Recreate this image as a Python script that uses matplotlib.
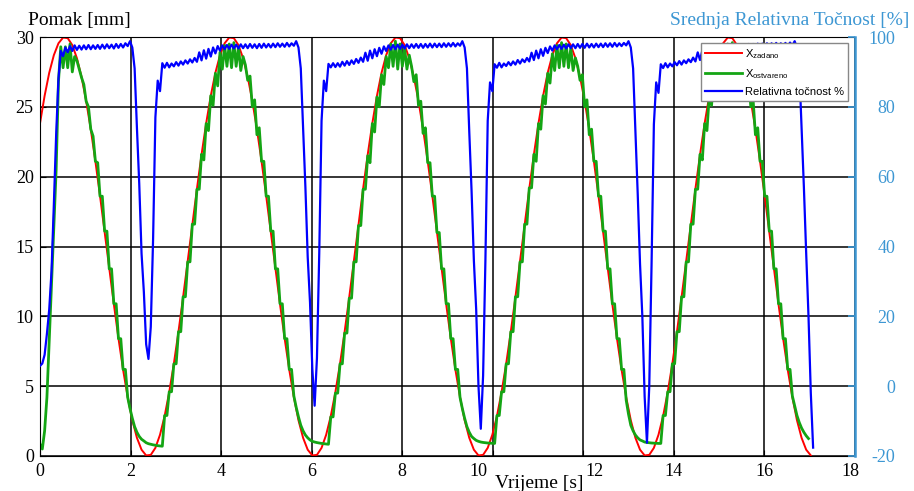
import numpy as np
import matplotlib
matplotlib.use('Agg')
import matplotlib.pyplot as plt

# logged signals: red every dt, green/blue every dt/2  [s]
dt = 0.10194
half_dt = dt / 2

# x_zadano [mm] (first point = 0 at t=0, then the sampled set-point)
red_mm = [0.0,
    23.82, 25.79, 27.44, 28.70, 29.55, 29.96, 29.92, 29.42, 28.48, 27.14, 25.42, 23.39,
    21.10, 18.63, 16.05, 13.43, 10.87, 8.42, 6.18, 4.21, 2.56, 1.30, 0.45, 0.04,
    0.08, 0.58, 1.52, 2.86, 4.58, 6.61, 8.90, 11.37, 13.95, 16.57, 19.13, 21.58,
    23.82, 25.79, 27.44, 28.70, 29.55, 29.96, 29.92, 29.42, 28.48, 27.14, 25.42, 23.39,
    21.10, 18.63, 16.05, 13.43, 10.87, 8.42, 6.18, 4.21, 2.56, 1.30, 0.45, 0.04,
    0.08, 0.58, 1.52, 2.86, 4.58, 6.61, 8.90, 11.37, 13.95, 16.57, 19.13, 21.58,
    23.82, 25.79, 27.44, 28.70, 29.55, 29.96, 29.92, 29.42, 28.48, 27.14, 25.42, 23.39,
    21.10, 18.63, 16.05, 13.43, 10.87, 8.42, 6.18, 4.21, 2.56, 1.30, 0.45, 0.04,
    0.08, 0.58, 1.52, 2.86, 4.58, 6.61, 8.90, 11.37, 13.95, 16.57, 19.13, 21.58,
    23.82, 25.79, 27.44, 28.70, 29.55, 29.96, 29.92, 29.42, 28.48, 27.14, 25.42, 23.39,
    21.10, 18.63, 16.05, 13.43, 10.87, 8.42, 6.18, 4.21, 2.56, 1.30, 0.45, 0.04,
    0.08, 0.58, 1.52, 2.86, 4.58, 6.61, 8.90, 11.37, 13.95, 16.57, 19.13, 21.58,
    23.82, 25.79, 27.44, 28.70, 29.55, 29.96, 29.92, 29.42, 28.48, 27.14, 25.42, 23.39,
    21.10, 18.63, 16.05, 13.43, 10.87, 8.42, 6.18, 4.21, 2.56, 1.30, 0.45, 0.04]

# x_ostvareno [mm]
green_start = [
    0.85, 0.50, 1.8, 4.2, 8.3, 12.5, 16.5, 20.5, 26.8, 29.3,
    27.8, 29.3, 27.8, 29.5, 27.5, 28.6, 28.3, 27.7, 27.1, 26.6,
    25.4, 25.0, 23.4, 22.9, 21.1, 21.0, 18.6, 18.6, 16.1, 16.1,
    13.4, 13.4, 10.9, 10.9, 8.4, 8.4, 6.2, 6.2, 4.2, 3.4,
    2.7, 2.1, 1.7, 1.4, 1.2, 1.08, 0.95, 0.88, 0.84, 0.80,
    0.77, 0.74, 0.72, 0.70]
green_cyc2 = [
    2.9, 2.9, 4.6, 4.6, 6.6, 6.6, 8.9, 8.9, 11.4, 11.4,
    13.9, 13.9, 16.6, 16.6, 19.1, 19.1, 21.6, 21.2, 23.8, 23.3,
    25.8, 25.1, 27.4, 26.5, 28.9, 27.7, 29.4, 27.9, 29.5, 27.8,
    29.6, 27.9, 29.3, 27.6, 28.6, 28.0, 26.9, 27.2, 25.0, 25.5,
    23.0, 23.5, 21.1, 21.1, 18.6, 18.6, 16.1, 16.1, 13.4, 13.4,
    10.9, 10.9, 8.4, 8.4, 6.2, 6.2, 4.3, 3.5, 2.8, 2.2,
    1.8, 1.5, 1.3, 1.15, 1.05, 1.0, 0.96, 0.93, 0.90, 0.88,
    0.86, 0.84]
green_cyc3 = [
    2.8, 2.8, 4.5, 4.5, 6.6, 6.6, 8.8, 8.8, 11.3, 11.3,
    13.9, 13.9, 16.5, 16.5, 19.1, 19.1, 21.5, 21.0, 23.8, 23.2,
    25.7, 25.0, 27.3, 26.6, 28.6, 27.8, 29.5, 27.9, 29.7, 27.7,
    29.5, 27.9, 29.2, 27.7, 28.7, 27.9, 26.8, 27.3, 25.1, 25.4,
    23.1, 23.5, 21.0, 21.0, 18.6, 18.6, 16.0, 16.0, 13.4, 13.4,
    10.9, 10.9, 8.4, 8.4, 6.2, 6.2, 4.2, 3.4, 2.7, 2.1,
    1.7, 1.4, 1.25, 1.12, 1.05, 1.0, 0.97, 0.95, 0.93, 0.92,
    0.91, 0.90]
green_cyc4 = [
    2.9, 2.9, 4.6, 4.6, 6.6, 6.6, 8.9, 8.9, 11.4, 11.4,
    13.9, 13.9, 16.6, 16.6, 19.2, 19.2, 21.6, 21.1, 23.8, 23.4,
    25.8, 25.2, 27.4, 26.7, 28.8, 27.6, 29.4, 27.8, 29.6, 27.9,
    29.5, 27.8, 29.2, 27.6, 28.5, 27.9, 26.9, 27.3, 25.0, 25.5,
    23.0, 23.4, 21.1, 21.1, 18.6, 18.6, 16.1, 16.1, 13.4, 13.4,
    10.9, 10.9, 8.4, 8.4, 6.2, 6.2, 4.0, 3.0, 2.2, 1.8,
    1.5, 1.3, 1.15, 1.08, 1.0, 0.97, 0.95, 0.93, 0.92, 0.91,
    0.90, 0.90]
green_cyc5 = [
    2.9, 2.9, 4.6, 4.6, 6.6, 6.6, 8.9, 8.9, 11.4, 11.4,
    13.9, 13.9, 16.6, 16.6, 19.1, 19.1, 21.6, 21.2, 23.8, 23.3,
    25.8, 25.1, 27.4, 26.5, 28.9, 27.7, 29.4, 27.9, 29.5, 27.8,
    29.6, 27.9, 29.3, 27.6, 28.6, 28.0, 26.9, 27.2, 25.0, 25.5,
    23.0, 23.5, 21.1, 21.1, 18.6, 18.6, 16.1, 16.1, 13.4, 13.4,
    10.9, 10.9, 8.4, 8.4, 6.2, 6.2, 4.3, 3.6, 2.9, 2.4,
    2.0, 1.7, 1.45, 1.25]

# relativna tocnost [%]
blue_start = [
    5.8, 6.5, 9.0, 15.0, 22.0, 33.0, 52.0, 72.0, 88.0, 96.0,
    94.5, 97.0, 95.6, 97.4, 96.0, 97.6, 96.3, 97.5, 96.4, 97.6,
    96.5, 97.7, 96.5, 97.6, 96.6, 97.7, 96.6, 97.8, 96.7, 97.9,
    96.8, 97.8, 96.7, 98.0, 96.9, 98.0, 97.0, 98.2, 97.4]
blue_cyc1 = [
    98.8, 97.0, 91.0, 74.0, 58.0, 38.0, 27.0, 12.0, 7.8, 17.0, 42.0,
    77.0, 87.5, 84.5, 92.5,
    91.2, 92.6, 91.3, 92.4, 91.6, 92.8, 91.8, 93.0, 92.1, 93.3,
    92.4, 93.6, 92.7, 94.0, 92.9, 95.6, 93.3, 96.2, 93.8, 96.6,
    94.4, 97.0, 95.3, 97.4, 96.1, 97.6, 96.5, 97.7, 96.6, 97.8,
    96.7, 97.8, 96.7, 97.9, 96.8, 97.9, 96.8, 98.0, 96.9, 97.9,
    96.8, 98.0, 96.9, 98.1, 97.0, 98.0, 97.0, 98.1, 97.1, 98.2,
    97.2, 98.1, 97.2, 98.3, 97.3, 98.2, 97.5]
blue_cyc2 = [
    98.8, 97.0, 91.0, 74.0, 57.0, 37.0, 24.0, 5.0, -5.6, 8.0, 38.0,
    76.0, 87.5, 84.5, 92.3,
    91.3, 92.5, 91.4, 92.5, 91.5, 92.9, 91.8, 93.1, 92.0, 93.3,
    92.3, 93.7, 92.6, 94.1, 92.9, 95.5, 93.2, 96.1, 93.9, 96.5,
    94.5, 96.9, 95.2, 97.3, 96.0, 97.6, 96.4, 97.7, 96.5, 97.8,
    96.6, 97.8, 96.7, 97.9, 96.8, 97.9, 96.9, 98.0, 96.9, 98.0,
    96.9, 98.0, 97.0, 98.1, 97.0, 98.1, 97.1, 98.1, 97.1, 98.2,
    97.2, 98.2, 97.3, 98.3, 97.3, 98.2, 97.5]
blue_cyc3 = [
    98.8, 97.0, 91.0, 73.0, 56.0, 36.0, 22.0, 0.0, -12.2, 3.0, 36.0,
    76.0, 87.0, 84.5, 92.2,
    91.2, 92.6, 91.3, 92.4, 91.7, 92.8, 91.9, 93.0, 92.1, 93.4,
    92.4, 93.6, 92.8, 94.0, 93.0, 95.5, 93.4, 96.1, 93.9, 96.5,
    94.6, 96.9, 95.4, 97.3, 96.1, 97.6, 96.5, 97.7, 96.6, 97.8,
    96.7, 97.9, 96.8, 97.9, 96.8, 98.0, 96.9, 98.0, 96.9, 98.1,
    97.0, 98.0, 97.0, 98.1, 97.1, 98.1, 97.1, 98.2, 97.2, 98.2,
    97.2, 98.3, 97.3, 98.2, 97.4, 98.3, 97.6]
blue_cyc4 = [
    98.8, 97.0, 91.0, 73.0, 55.0, 35.0, 20.0, -3.0, -16.2, 0.0, 35.0,
    75.0, 87.0, 84.0, 92.2,
    91.1, 92.5, 91.3, 92.4, 91.6, 92.8, 91.9, 93.1, 92.1, 93.3,
    92.5, 93.6, 92.8, 94.1, 93.0, 95.6, 93.4, 96.2, 93.9, 96.6,
    94.5, 97.0, 95.3, 97.4, 96.1, 97.6, 96.5, 97.7, 96.6, 97.8,
    96.7, 97.8, 96.8, 97.9, 96.8, 97.9, 96.9, 98.0, 96.9, 98.0,
    97.0, 98.1, 97.0, 98.1, 97.1, 98.2, 97.1, 98.2, 97.2, 98.3,
    97.3, 98.2, 97.3, 98.3, 97.4, 98.4, 97.6]
blue_end = [98.8, 97.0, 91.0, 74.0, 57.0, 38.0, 20.0, -2.0, -17.6]

green_mm = green_start + green_cyc2 + green_cyc3 + green_cyc4 + green_cyc5
blue_pct = blue_start + blue_cyc1 + blue_cyc2 + blue_cyc3 + blue_cyc4 + blue_end

red_t = np.concatenate([[0.0], np.arange(len(red_mm) - 1) * dt])
green_t = np.arange(len(green_mm)) * half_dt
blue_t = np.arange(len(blue_pct)) * half_dt

x_ticks = list(range(0, 19, 2))
y_ticks = list(range(0, 31, 5))
pct_ticks = list(range(-20, 101, 20))

right_col = '#3d97d3'
plt.rcParams['font.family'] = 'Liberation Serif'
plt.rcParams['mathtext.default'] = 'regular'
plt.rcParams['axes.unicode_minus'] = False

fig = plt.figure(figsize=(9.14, 4.91), dpi=100)
ax = fig.add_axes([40 / 914, 1 - 456 / 491, 815 / 914, 419 / 491])

l_red, = ax.plot(red_t, red_mm, color='#ff0000', lw=1.4)
l_green, = ax.plot(green_t, green_mm, color='#14a514', lw=2.0)
ax.set_xlim(0, 18)
ax.set_ylim(0, 30)
ax.set_xticks(x_ticks)
ax.set_xticklabels([str(v) if v not in (10, 12, 18) else '' for v in x_ticks])
ax.set_yticks(y_ticks)
ax.grid(True, color='black', lw=1.1)
ax.tick_params(direction='in', labelsize=13, length=4)
ax.tick_params(axis='x', pad=5)
ax.tick_params(axis='y', pad=4.5)
ax.spines['right'].set_visible(False)

# the 10, 12 and 18 labels sit a little off their ticks
for xv, dx in ((10, -14), (12, 11), (18, -5)):
    tr = ax.get_xaxis_transform() + matplotlib.transforms.ScaledTranslation(dx / 100, -7 / 100, fig.dpi_scale_trans)
    ax.text(xv, 0, str(xv), transform=tr, ha='center', va='top', fontsize=13)

ax2 = ax.twinx()
l_blue, = ax2.plot(blue_t, blue_pct, color='#0000ff', lw=1.6)
ax2.set_ylim(-20, 100)
ax2.set_yticks(pct_ticks)
ax2.tick_params(axis='y', colors=right_col, direction='in', length=5, width=1.2,
                labelsize=13, pad=28.8)
for lbl in ax2.get_yticklabels():
    lbl.set_horizontalalignment('right')
for s in ('left', 'top', 'bottom'):
    ax2.spines[s].set_visible(False)
ax2.spines['right'].set_color(right_col)
ax2.spines['right'].set_linewidth(1.8)

fig.text(28 / 914, 1 - 25 / 491, 'Pomak [mm]', fontsize=14, va='baseline')
fig.text(670 / 914, 1 - 25 / 491, 'Srednja Relativna Točnost [%]', fontsize=14,
         color=right_col, va='baseline')
fig.text(495 / 914, 1 - 488 / 491, 'Vrijeme [s]', fontsize=14, va='baseline')

leg = ax2.legend([l_red, l_green, l_blue],
                 ['X$_{zadano}$', 'X$_{ostvareno}$', 'Relativna točnost %'],
                 loc='upper right', bbox_to_anchor=(0.9914, 0.9857), borderaxespad=0,
                 prop={'family': 'Liberation Sans', 'size': 8}, handlelength=3.3,
                 handletextpad=0.3, borderpad=0.35, labelspacing=0.55,
                 fancybox=False, framealpha=1, edgecolor='#888888')
leg.get_frame().set_linewidth(1.0)

fig.savefig('out.png', dpi=100)
